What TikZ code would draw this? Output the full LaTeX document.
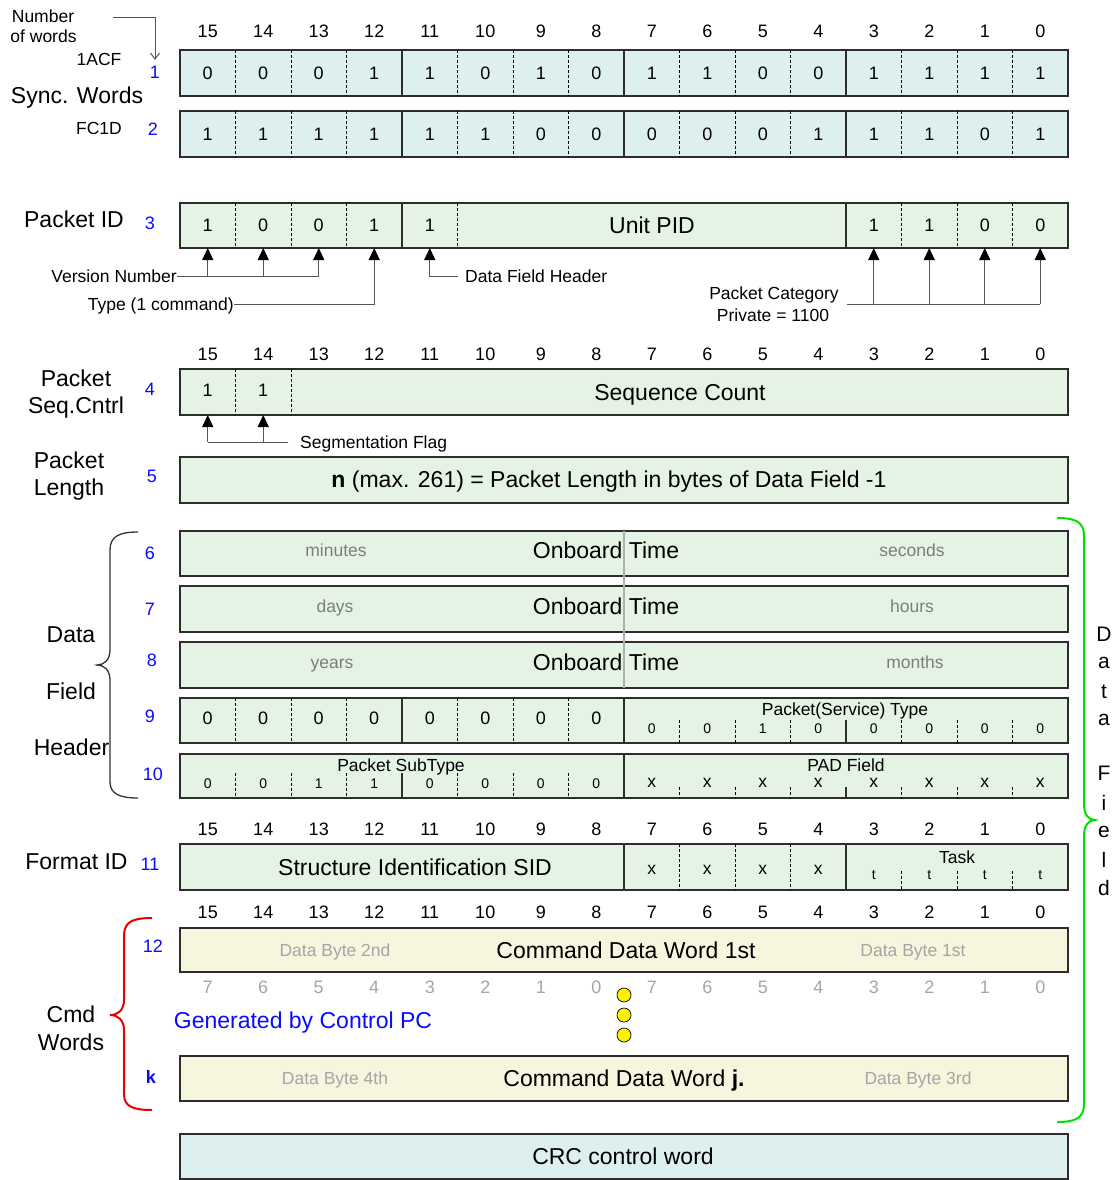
\documentclass[tikz,border=0pt]{standalone}
\usepackage{fontspec}
\setmainfont{Liberation Sans}
\usetikzlibrary{arrows.meta}
\definecolor{cyanfill}{RGB}{221,239,239}
\definecolor{grnfill}{RGB}{229,243,229}
\definecolor{ylwfill}{RGB}{246,245,221}
\definecolor{numblue}{RGB}{10,10,255}
\definecolor{gtxt}{RGB}{125,125,125}
\definecolor{ltxt}{RGB}{165,165,165}
\definecolor{lncol}{RGB}{85,85,85}
\definecolor{boxcol}{RGB}{45,45,45}
\definecolor{bracegray}{RGB}{50,50,50}
\definecolor{bracered}{RGB}{235,0,0}
\definecolor{bracegreen}{RGB}{0,225,0}
\definecolor{divgray}{RGB}{175,175,175}
\newcommand\wordbox[4]{\pgfmathsetmacro\wbh{#4-#3}\pgfmathsetmacro\wbc{(#3+#4)/2}\node[word,fill=#2,minimum height=\wbh pt] (#1) at (624,\wbc) {};}
\newcommand\mydiv[4]{\draw[#1] (X#2 |- 0,#3) -- (X#2 |- 0,#4);}
\begin{document}
\begin{tikzpicture}[x=1pt,y=-1pt,
  fB/.style={font=\fontsize{23}{27}\selectfont, inner sep=0pt, text height=16.5pt, text depth=0pt},
  fM/.style={font=\fontsize{18}{21}\selectfont, inner sep=0pt, text height=12.9pt, text depth=0pt},
  fS/.style={font=\fontsize{17.5}{20}\selectfont, inner sep=0pt, text height=12.5pt, text depth=0pt},
  fT/.style={font=\fontsize{14}{16}\selectfont, inner sep=0pt, text height=10pt, text depth=0pt},
  xS/.style={font=\fontsize{17.5}{20}\selectfont, inner sep=0pt, text height=9pt, text depth=0pt},
  xT/.style={font=\fontsize{14}{16}\selectfont, inner sep=0pt, text height=8.5pt, text depth=0pt},
  vl/.style={font=\fontsize{21}{24}\selectfont, inner sep=0pt, anchor=base},
  bnum/.style={fM, text=numblue},
  word/.style={draw=boxcol, line width=1.5pt, minimum width=888pt, inner sep=0pt, outer sep=0pt},
  ddiv/.style={draw=black, line width=0.8pt, dash pattern=on 3pt off 2pt},
  sdiv/.style={draw=boxcol, line width=1.3pt},
  ln/.style={draw=lncol, line width=1pt},
  arr/.style={ln, -{Triangle[length=12pt,width=11pt,color=black]}},
]
\useasboundingbox (0,0) rectangle (1114,1180);
\foreach \b in {0,...,15} {\coordinate (c\b) at ({207.75+(15-\b)*55.5},0);}
\foreach \k in {0,...,16} {\coordinate (X\k) at ({180+55.5*\k},0);}

% ---------- word boxes ----------
\wordbox{w1}{cyanfill}{50}{96}
\wordbox{w2}{cyanfill}{111}{157}
\wordbox{w3}{grnfill}{203}{248}
\wordbox{w4}{grnfill}{369}{415}
\wordbox{w5}{grnfill}{457}{503}
\wordbox{w6}{grnfill}{531}{576}
\wordbox{w7}{grnfill}{586}{632}
\wordbox{w8}{grnfill}{642}{688}
\wordbox{w9}{grnfill}{698}{743}
\wordbox{w10}{grnfill}{754}{798}
\wordbox{w11}{grnfill}{844}{890}
\wordbox{w12}{ylwfill}{928}{972}
\wordbox{wk}{ylwfill}{1056}{1101}
\wordbox{wcrc}{cyanfill}{1134}{1179}

% ---------- bit number headers ----------
\foreach \yy/\nm in {31/a,354/b,829/c,912/d} {\foreach \b in {0,...,15} {\node[fM] (h\nm\b) at (c\b |- 0,\yy) {\b};}}

% ---------- rows 1 and 2 ----------
\foreach \k in {1,2,3,5,6,7,9,10,11,13,14,15} {\mydiv{ddiv}{\k}{50}{96}\mydiv{ddiv}{\k}{111}{157}}
\foreach \k in {4,8,12} {\mydiv{sdiv}{\k}{50}{96}\mydiv{sdiv}{\k}{111}{157}}
\foreach \b/\v in {15/0,14/0,13/0,12/1,11/1,10/0,9/1,8/0,7/1,6/1,5/0,4/0,3/1,2/1,1/1,0/1} {\node[fM] (ra\b) at (c\b |- w1) {\v};}
\foreach \b/\v in {15/1,14/1,13/1,12/1,11/1,10/1,9/0,8/0,7/0,6/0,5/0,4/1,3/1,2/1,1/0,0/1} {\node[fM] (rb\b) at (c\b |- w2) {\v};}

% ---------- row 3 ----------
\foreach \k in {1,2,3,5,13,14,15} {\mydiv{ddiv}{\k}{203}{248}}
\foreach \k in {4,12} {\mydiv{sdiv}{\k}{203}{248}}
\foreach \b/\v in {15/1,14/0,13/0,12/1,11/1,3/1,2/1,1/0,0/0} {\node[fM] (rc\b) at (c\b |- 0,225.5) {\v};}
\node[fB] (upid) at (652,225.5) {Unit PID};

% ---------- row 4, 5 ----------
\foreach \k in {1,2} {\mydiv{ddiv}{\k}{369}{415}}
\foreach \b in {15,14} {\node[fM] (rd\b) at (c\b |- 0,390) {1};}
\node[fB] (seqc) at (680,392) {Sequence Count};
\node[fB] (plen) at (609,479) {\textbf{n} (max. 261) = Packet Length in bytes of Data Field -1};

% ---------- rows 6-8 ----------
\draw[divgray, line width=1.3pt] (X8 |- w6.north) -- (X8 |- w8.south);
\node[fS, text=gtxt] (t6l) at (336,550.5) {minutes};
\node[fB] (t6m) at (606,550.5) {Onboard Time};
\node[fS, text=gtxt] (t6r) at (912,550.5) {seconds};
\node[fS, text=gtxt] (t7l) at (335,606.5) {days};
\node[fB] (t7m) at (606,606.5) {Onboard Time};
\node[fS, text=gtxt] (t7r) at (912,606.5) {hours};
\node[fS, text=gtxt] (t8l) at (332,662) {years};
\node[fB] (t8m) at (606,662) {Onboard Time};
\node[fS, text=gtxt] (t8r) at (915,662) {months};

% ---------- row 9 ----------
\foreach \k in {1,2,3,5,6,7} {\mydiv{ddiv}{\k}{698}{743}}
\foreach \k in {4,8} {\mydiv{sdiv}{\k}{698}{743}}
\foreach \k in {9,10,11,13,14,15} {\mydiv{ddiv}{\k}{720}{743}}
\mydiv{sdiv}{12}{720}{743}
\foreach \b in {15,14,13,12,11,10,9,8} {\node[fM] (re\b) at (c\b |- 0,718) {0};}
\node[fS] (pst) at (845,709) {Packet(Service) Type};
\foreach \b/\v in {7/0,6/0,5/1,4/0,3/0,2/0,1/0,0/0} {\node[fT] (rf\b) at (c\b |- 0,728.5) {\v};}

% ---------- row 10 ----------
\foreach \k in {1,2,3,5,6,7} {\mydiv{ddiv}{\k}{773}{798}}
\mydiv{sdiv}{4}{773}{798}
\mydiv{sdiv}{8}{754}{798}
\foreach \k in {9,10,11,13,14,15} {\mydiv{ddiv}{\k}{787}{798}}
\mydiv{sdiv}{12}{787}{798}
\node[fS] (pstt) at (401,765.5) {Packet SubType};
\foreach \b/\v in {15/0,14/0,13/1,12/1,11/0,10/0,9/0,8/0} {\node[fT] (rg\b) at (c\b |- 0,783) {\v};}
\node[fS] (pad) at (846,765) {PAD Field};
\foreach \b in {7,6,5,4,3,2,1,0} {\node[xS] (rh\b) at (c\b |- 0,782.5) {x};}

% ---------- row 11 ----------
\foreach \k in {8,12} {\mydiv{sdiv}{\k}{844}{890}}
\foreach \k in {9,10,11} {\mydiv{ddiv}{\k}{844}{890}}
\foreach \k in {13,14,15} {\mydiv{ddiv}{\k}{871}{890}}
\node[fB] (sid) at (415,867) {Structure Identification SID};
\foreach \b in {7,6,5,4} {\node[xS] (ri\b) at (c\b |- 0,870) {x};}
\node[fS] (task) at (957,857) {Task};
\foreach \b in {3,2,1,0} {\node[xT] (rj\b) at (c\b |- 0,875.5) {t};}

% ---------- command words ----------
\node[fS, text=ltxt] (db2) at (335,950) {Data Byte 2nd};
\node[fB] (cdw1) at (626,950) {Command Data Word 1st};
\node[fS, text=ltxt] (db1) at (913,950) {Data Byte 1st};
\foreach \b/\v in {15/7,14/6,13/5,12/4,11/3,10/2,9/1,8/0,7/7,6/6,5/5,4/4,3/3,2/2,1/1,0/0} {\node[fM, text=ltxt] (rk\b) at (c\b |- 0,987) {\v};}
\foreach \i/\yy in {1/995,2/1015,3/1035} {\node[circle, draw=black, fill=yellow, line width=0.7pt, minimum size=14pt, inner sep=0pt] (dot\i) at (624,\yy) {};}
\node[fB, text=numblue] (gen) at (303,1020) {Generated by Control PC};
\node[fS, text=ltxt] (db4) at (335,1078) {Data Byte 4th};
\node[fB] (cdwj) at (624,1078) {Command Data Word \textbf{j.}};
\node[fS, text=ltxt] (db3) at (918,1078) {Data Byte 3rd};
\node[fB] (crc) at (623,1156) {CRC control word};

% ---------- left labels ----------
\node[fS] (nw1) at (43,16.5) {Number};
\node[fS] (nw2) at (43.5,36) {of words};
\coordinate (nwe) at (113,17.5);
\node[fS] (acf) at (99,59) {1ACF};
\node[bnum] (n1) at (155,72.5) {1};
\draw[ln, -{Straight Barb[length=6pt,width=9pt]}] (nwe) -| ([yshift=6pt]n1.north);
\node[fB] (sync) at (77,95.5) {Sync. Words};
\node[fS] (fcd) at (99,128.5) {FC1D};
\node[bnum] (n2) at (153,129) {2};
\node[fB] (pid) at (74,219.5) {Packet ID};
\node[bnum] (n3) at (150,223) {3};
\node[fB] (psc1) at (76,378) {Packet};
\node[fB] (psc2) at (76,405) {Seq.Cntrl};
\node[bnum] (n4) at (150,389) {4};
\node[fB] (pl1) at (69,460) {Packet};
\node[fB] (pl2) at (69,487) {Length};
\node[bnum] (n5) at (152,476) {5};
\node[bnum] (n6) at (150,553) {6};
\node[bnum] (n7) at (150,609) {7};
\node[bnum] (n8) at (152,660) {8};
\node[bnum] (n9) at (150,716) {9};
\node[bnum] (n10) at (153,774) {10};
\node[fB] (dfh1) at (71,634) {Data};
\node[fB] (dfh2) at (71,691) {Field};
\node[fB] (dfh3) at (71.5,747) {Header};
\node[fB] (fid) at (76.5,861) {Format ID};
\node[bnum] (n11) at (150,864) {11};
\node[bnum] (n12) at (153,946) {12};
\node[fM, text=numblue, font=\fontsize{18}{21}\selectfont\bfseries] (nk) at (151,1077) {k};
\node[fB] (cmd1) at (71,1014) {Cmd};
\node[fB] (cmd2) at (71,1042) {Words};

% ---------- packet ID annotations ----------
\node[fS, anchor=east] (vn) at (177,276) {Version Number};
\draw[ln] (vn.east) -- (c13 |- vn.east);
\foreach \b in {15,14,13} {\draw[arr] (c\b |- vn.east) -- (c\b |- w3.south);}
\node[fS, anchor=east] (ty) at (234,304) {Type (1 command)};
\draw[arr] (ty.east) -| (c12 |- w3.south);
\node[fS, anchor=west] (dfhl) at (465,276) {Data Field Header};
\draw[arr] ([xshift=-7pt]dfhl.west) -| (c11 |- w3.south);
\node[fS] (pc1) at (774,293) {Packet Category};
\node[fS] (pc2) at (773,315) {Private = 1100};
\coordinate (pcl) at (847,304);
\draw[ln] (pcl) -- (c0 |- pcl);
\foreach \b in {3,2,1,0} {\draw[arr] (c\b |- pcl) -- (c\b |- w3.south);}

% ---------- segmentation flag ----------
\node[fS, anchor=west] (sf) at (300,442) {Segmentation Flag};
\draw[ln] ([xshift=-12pt]sf.west) -- (c15 |- sf.west);
\foreach \b in {15,14} {\draw[arr] (c\b |- sf.west) -- (c\b |- w4.south);}

% ---------- braces ----------
\draw[bracegray, line width=1.3pt] (138,532) .. controls (120,532) and (110,536) .. (110,550) -- (110,650) .. controls (110,660) and (104,665) .. (97,665) .. controls (104,665) and (110,670) .. (110,680) -- (110,782) .. controls (110,794) and (120,798) .. (138,798);
\draw[bracered, line width=2pt] (152,918) .. controls (132,918) and (124,922) .. (124,936) -- (124,1000) .. controls (124,1010) and (118,1015) .. (110,1015) .. controls (118,1015) and (124,1020) .. (124,1030) -- (124,1094) .. controls (124,1106) and (132,1110) .. (152,1110);
\draw[bracegreen, line width=2pt] (1057,518) .. controls (1076,518) and (1084,522) .. (1084,536) -- (1084,804) .. controls (1084,814) and (1088,820) .. (1095,820) .. controls (1088,820) and (1084,826) .. (1084,836) -- (1084,1104) .. controls (1084,1118) and (1076,1122) .. (1057,1122);

% ---------- vertical Data Field ----------
\foreach \l/\yy/\nm in {D/641/v1,a/668/v2,t/698/v3,a/725/v4,F/780/v5,i/810/v6,e/837/v7,l/867/v8,d/895/v9} {\node[vl] (\nm) at (1104,\yy) {\l};}
\end{tikzpicture}
\end{document}
